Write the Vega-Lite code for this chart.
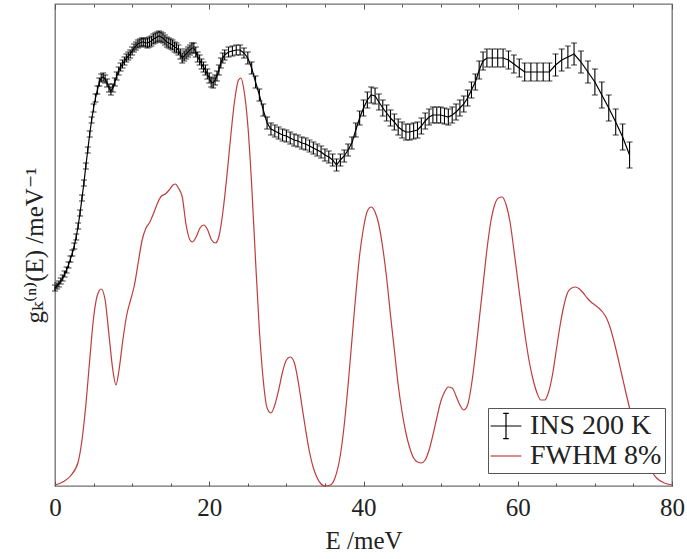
{
 "$schema": "https://vega.github.io/schema/vega-lite/v6.json",
 "width": 617, "height": 482,
 "autosize": "none",
 "padding": {"left": 55, "top": 4, "right": 15, "bottom": 73},
 "config": {
  "view": {"stroke": "#707070", "strokeWidth": 1.3},
  "axis": {"labelFont": "'Liberation Serif', 'DejaVu Serif', serif", "titleFont": "'Liberation Serif', 'DejaVu Serif', serif", "labelFontSize": 25, "titleFontSize": 25, "titleFontWeight": "normal", "labelColor": "#222", "titleColor": "#222", "domain": false, "grid": false, "tickColor": "#555", "tickWidth": 1, "labelFlush": false},
  "legend": {"labelFont": "'Liberation Serif', 'DejaVu Serif', serif", "labelFontSize": 28, "labelColor": "#222", "symbolSize": 784, "rowPadding": 0, "labelOffset": 9, "padding": 3, "symbolStrokeWidth": 1.2, "symbolFillColor": "transparent"}
 },
 "datasets": {
  "ins": [
   {"E":0,"g":198,"e":3},{"E":0.25,"g":200,"e":3},{"E":0.5,"g":202,"e":3},{"E":0.75,"g":205,"e":3},{"E":1,"g":208,"e":3},{"E":1.25,"g":212,"e":3},{"E":1.5,"g":216,"e":3},{"E":1.75,"g":221,"e":3},{"E":2,"g":227,"e":3},{"E":2.25,"g":233,"e":3},{"E":2.5,"g":240,"e":3},{"E":2.75,"g":249,"e":3},{"E":3,"g":260,"e":3},{"E":3.25,"g":273,"e":3},{"E":3.5,"g":288,"e":3},{"E":3.75,"g":303,"e":3},{"E":4,"g":320,"e":3},{"E":4.25,"g":336,"e":3},{"E":4.5,"g":352,"e":3},{"E":4.75,"g":366,"e":3},
   {"E":5,"g":378,"e":4},{"E":5.25,"g":388,"e":4},{"E":5.5,"g":396,"e":4},{"E":5.75,"g":404,"e":4},{"E":6,"g":408,"e":4},{"E":6.25,"g":409,"e":4},{"E":6.5,"g":407,"e":4},{"E":6.75,"g":403,"e":4},{"E":7,"g":398,"e":4},{"E":7.25,"g":395,"e":4},{"E":7.5,"g":398,"e":4},{"E":7.75,"g":404,"e":4},{"E":8,"g":410,"e":4},{"E":8.25,"g":415,"e":4},{"E":8.5,"g":419,"e":4},{"E":8.75,"g":422,"e":4},{"E":9,"g":425,"e":4},{"E":9.25,"g":428,"e":4},{"E":9.5,"g":430,"e":4},{"E":9.75,"g":432,"e":4},{"E":10,"g":435,"e":4},{"E":10.25,"g":438,"e":4},{"E":10.5,"g":440,"e":4},{"E":10.75,"g":442,"e":4},{"E":11,"g":443,"e":4},{"E":11.25,"g":444,"e":4},{"E":11.5,"g":444,"e":4},{"E":11.75,"g":443,"e":4},
   {"E":12,"g":443,"e":5},{"E":12.25,"g":444,"e":5},{"E":12.5,"g":445,"e":5},{"E":12.75,"g":447,"e":5},{"E":13,"g":448,"e":5},{"E":13.25,"g":449,"e":5},{"E":13.5,"g":450,"e":5},{"E":13.75,"g":449,"e":5},{"E":14,"g":448,"e":5},{"E":14.25,"g":446,"e":5},{"E":14.5,"g":444,"e":5},{"E":14.75,"g":443,"e":5},{"E":15,"g":442,"e":5},{"E":15.25,"g":441,"e":5},{"E":15.5,"g":439,"e":5},{"E":15.75,"g":438,"e":5},{"E":16,"g":436,"e":5},{"E":16.25,"g":432,"e":5},{"E":16.5,"g":428,"e":5},{"E":16.75,"g":430,"e":5},{"E":17,"g":432,"e":5},{"E":17.25,"g":434,"e":5},{"E":17.5,"g":436,"e":5},{"E":17.75,"g":438,"e":5},{"E":18,"g":438,"e":5},{"E":18.25,"g":434,"e":5},{"E":18.5,"g":429,"e":5},{"E":18.75,"g":426,"e":5},{"E":19,"g":422,"e":5},{"E":19.25,"g":419,"e":5},{"E":19.5,"g":416,"e":5},{"E":19.75,"g":412,"e":5},{"E":20,"g":408,"e":5},{"E":20.25,"g":404,"e":5},{"E":20.5,"g":403,"e":5},{"E":20.75,"g":406,"e":5},{"E":21,"g":410,"e":5},{"E":21.25,"g":416,"e":5},{"E":21.5,"g":423,"e":5},{"E":21.75,"g":428,"e":5},{"E":22,"g":431,"e":5},{"E":22.5,"g":434,"e":5},{"E":23,"g":435,"e":5},{"E":23.5,"g":436,"e":5},{"E":24,"g":436,"e":5},{"E":24.5,"g":433,"e":5},
   {"E":25,"g":428,"e":6},{"E":25.5,"g":418,"e":6},{"E":26,"g":404,"e":6},{"E":26.5,"g":391,"e":6},{"E":27,"g":376,"e":6},{"E":27.5,"g":363,"e":6},{"E":28,"g":357,"e":6},{"E":28.5,"g":355,"e":6},{"E":29,"g":353,"e":6},{"E":29.5,"g":351,"e":6},{"E":30,"g":350,"e":6},{"E":30.5,"g":348,"e":6},{"E":31,"g":346,"e":6},{"E":31.5,"g":345,"e":6},{"E":32,"g":343,"e":6},{"E":32.5,"g":342,"e":6},{"E":33,"g":340,"e":6},{"E":33.5,"g":338,"e":6},{"E":34,"g":336,"e":6},{"E":34.5,"g":334,"e":6},{"E":35,"g":331,"e":6},{"E":35.5,"g":329,"e":6},{"E":36,"g":326,"e":6},{"E":36.5,"g":321,"e":6},{"E":37,"g":326,"e":6},{"E":37.5,"g":330,"e":6},{"E":38,"g":336,"e":6},{"E":38.5,"g":343,"e":6},{"E":39,"g":356,"e":7},{"E":39.5,"g":368,"e":7},
   {"E":40,"g":378,"e":8},{"E":40.5,"g":386,"e":8},{"E":41,"g":391,"e":8},{"E":41.5,"g":390,"e":8},{"E":42,"g":384,"e":8},{"E":42.5,"g":378,"e":8},{"E":43,"g":373,"e":8},{"E":43.5,"g":368,"e":8},{"E":44,"g":364,"e":8},{"E":44.5,"g":359,"e":8},{"E":45,"g":356,"e":8},{"E":45.5,"g":354,"e":8},{"E":46,"g":354,"e":8},{"E":46.5,"g":355,"e":8},{"E":47,"g":356,"e":8},{"E":47.5,"g":360,"e":8},{"E":48,"g":365,"e":8},{"E":48.5,"g":369,"e":8},{"E":49,"g":371,"e":8},{"E":49.5,"g":371,"e":8},{"E":50,"g":371,"e":8},{"E":50.5,"g":370,"e":8},{"E":51,"g":369,"e":8},{"E":51.5,"g":371,"e":8},{"E":52,"g":374,"e":8},{"E":52.5,"g":378,"e":8},{"E":53,"g":382,"e":8},{"E":53.5,"g":388,"e":8},{"E":54,"g":396,"e":8},{"E":54.5,"g":404,"e":8},
   {"E":55,"g":416,"e":9},{"E":55.5,"g":425,"e":9},{"E":56,"g":428,"e":9},{"E":56.7,"g":428,"e":9},{"E":57.4,"g":428,"e":9},{"E":58.1,"g":428,"e":9},{"E":58.8,"g":426,"e":9},{"E":59.5,"g":422,"e":9},{"E":60.2,"g":418,"e":9},{"E":60.9,"g":414,"e":9},{"E":61.7,"g":414,"e":9},{"E":62.5,"g":414,"e":9},{"E":63.3,"g":414,"e":9},{"E":64.1,"g":414,"e":9},
   {"E":64.9,"g":421,"e":11},{"E":65.7,"g":426,"e":11},{"E":66.5,"g":429,"e":11},{"E":67.3,"g":432,"e":11},{"E":68.2,"g":424,"e":11},{"E":69.1,"g":414,"e":11},
   {"E":70,"g":404,"e":13},{"E":70.9,"g":391,"e":13},{"E":71.8,"g":378,"e":13},{"E":72.7,"g":364,"e":13},{"E":73.6,"g":349,"e":13},{"E":74.5,"g":331,"e":13}
  ],
  "fwhm": [
   {"E":0,"g":1},{"E":1,"g":4},{"E":2,"g":10},{"E":3,"g":24},{"E":3.5,"g":46},{"E":4,"g":81},{"E":4.5,"g":126},{"E":5,"g":168},{"E":5.5,"g":191},{"E":6,"g":197},{"E":6.5,"g":186},{"E":7,"g":151},{"E":7.5,"g":116},{"E":7.9,"g":101},{"E":8.3,"g":116},{"E":8.8,"g":146},{"E":9.3,"g":171},{"E":9.8,"g":186},{"E":10.3,"g":201},{"E":10.8,"g":224},{"E":11.3,"g":246},{"E":11.8,"g":258},{"E":12.3,"g":264},{"E":12.8,"g":273},{"E":13.3,"g":283},{"E":13.8,"g":290},{"E":14.3,"g":292},{"E":14.8,"g":296},{"E":15.3,"g":301},{"E":15.6,"g":302},{"E":16,"g":298},{"E":16.5,"g":289},{"E":17,"g":261},{"E":17.5,"g":246},{"E":17.8,"g":244},{"E":18.3,"g":249},{"E":18.8,"g":258},{"E":19.3,"g":261},{"E":19.8,"g":256},{"E":20.3,"g":246},{"E":20.8,"g":243},{"E":21.3,"g":251},{"E":21.8,"g":276},{"E":22.3,"g":311},{"E":22.8,"g":351},{"E":23.3,"g":386},{"E":23.8,"g":406},{"E":24.1,"g":408},{"E":24.5,"g":396},{"E":25,"g":361},{"E":25.5,"g":301},{"E":26,"g":226},{"E":26.5,"g":156},{"E":27,"g":106},{"E":27.5,"g":78},{"E":28,"g":73},{"E":28.5,"g":81},{"E":29,"g":96},{"E":29.5,"g":114},{"E":30,"g":126},{"E":30.5,"g":129},{"E":31,"g":124},{"E":31.5,"g":106},{"E":32,"g":81},{"E":32.5,"g":56},{"E":33,"g":34},{"E":33.5,"g":18},{"E":34,"g":8},{"E":34.5,"g":2},{"E":35,"g":0},{"E":35.7,"g":1},{"E":36.3,"g":8},{"E":37,"g":31},{"E":37.5,"g":61},{"E":38,"g":101},{"E":38.5,"g":146},{"E":39,"g":191},{"E":39.5,"g":231},{"E":40,"g":258},{"E":40.5,"g":275},{"E":41,"g":279},{"E":41.5,"g":274},{"E":42,"g":261},{"E":42.5,"g":238},{"E":43,"g":208},{"E":43.5,"g":171},{"E":44,"g":136},{"E":44.5,"g":101},{"E":45,"g":74},{"E":45.5,"g":53},{"E":46,"g":38},{"E":46.5,"g":28},{"E":47,"g":24},{"E":47.5,"g":23},{"E":48,"g":26},{"E":48.5,"g":36},{"E":49,"g":51},{"E":49.5,"g":68},{"E":50,"g":84},{"E":50.5,"g":94},{"E":51,"g":99},{"E":51.5,"g":98},{"E":52,"g":90},{"E":52.5,"g":81},{"E":53,"g":76},{"E":53.5,"g":81},{"E":54,"g":101},{"E":54.5,"g":131},{"E":55,"g":166},{"E":55.5,"g":201},{"E":56,"g":236},{"E":56.5,"g":264},{"E":57,"g":281},{"E":57.5,"g":288},{"E":58,"g":289},{"E":58.5,"g":281},{"E":59,"g":264},{"E":59.5,"g":236},{"E":60,"g":206},{"E":60.5,"g":176},{"E":61,"g":148},{"E":61.5,"g":124},{"E":62,"g":106},{"E":62.5,"g":93},{"E":63,"g":86},{"E":63.5,"g":86},{"E":64,"g":94},{"E":64.5,"g":111},{"E":65,"g":136},{"E":65.5,"g":161},{"E":66,"g":181},{"E":66.5,"g":194},{"E":67,"g":198},{"E":67.5,"g":199},{"E":68,"g":197},{"E":68.5,"g":193},{"E":69,"g":188},{"E":69.5,"g":184},{"E":70,"g":181},{"E":70.5,"g":178},{"E":71,"g":174},{"E":71.5,"g":168},{"E":72,"g":158},{"E":72.5,"g":144},{"E":73,"g":128},{"E":73.5,"g":111},{"E":74,"g":94},{"E":74.5,"g":78},{"E":75,"g":64},{"E":75.5,"g":50},{"E":76,"g":38},{"E":76.5,"g":28},{"E":77,"g":20},{"E":77.5,"g":13},{"E":78,"g":8},{"E":79,"g":3},{"E":80,"g":1}
  ]
 },
 "layer": [
  {
   "data": {"name": "fwhm"},
   "mark": {"type": "line", "interpolate": "monotone", "strokeWidth": 1.2},
   "encoding": {
    "x": {"field": "E", "type": "quantitative", "scale": {"domain": [0, 80], "nice": false}, "axis": {"orient": "bottom", "values": [0, 20, 40, 60, 80], "tickSize": -5, "labelPadding": 14, "title": "E /meV", "titlePadding": 8}},
    "y": {"field": "g", "type": "quantitative", "scale": {"domain": [0, 482], "nice": false, "zero": false}, "axis": {"title": "gₖ⁽ⁿ⁾(E) /meV⁻¹", "labels": false, "ticks": false, "titlePadding": 8}},
    "color": {"datum": "FWHM 8%", "type": "nominal", "scale": {"domain": ["INS 200 K", "FWHM 8%"], "range": ["#000000", "#c03c3c"]},
     "legend": {"orient": "none", "legendX": 433, "legendY": 404, "title": null, "strokeColor": "#555", "fillColor": "white",
      "encode": {"symbols": {"update": {"shape": {"signal": "datum.value === 'INS 200 K' ? 'M-1.1,0H1.1M0,-0.9V0.9M-0.2,-0.9H0.2M-0.2,0.9H0.2' : 'M-1.1,0H1.1'"}}}}}}
   }
  },
  {
   "data": {"name": "fwhm"},
   "mark": {"type": "line", "opacity": 0, "color": "#c03c3c"},
   "encoding": {
    "x": {"field": "E", "type": "quantitative", "axis": {"orient": "bottom", "values": [5, 10, 15, 25, 30, 35, 45, 50, 55, 65, 70, 75], "tickSize": -3, "labels": false, "title": null}},
    "y": {"field": "g", "type": "quantitative", "axis": {"title": "gₖ⁽ⁿ⁾(E) /meV⁻¹", "labels": false, "ticks": false, "titlePadding": 8}}
   }
  },
  {
   "data": {"name": "ins"},
   "mark": {"type": "line", "strokeWidth": 1.2},
   "encoding": {
    "x": {"field": "E", "type": "quantitative", "axis": {"orient": "top", "values": [0, 20, 40, 60, 80], "tickSize": -5, "labels": false, "title": null}},
    "y": {"field": "g", "type": "quantitative", "axis": {"title": "gₖ⁽ⁿ⁾(E) /meV⁻¹", "labels": false, "ticks": false, "titlePadding": 8}},
    "color": {"datum": "INS 200 K", "type": "nominal",
     "legend": {"orient": "none", "legendX": 433, "legendY": 404, "title": null, "strokeColor": "#555", "fillColor": "white",
      "encode": {"symbols": {"update": {"shape": {"signal": "datum.value === 'INS 200 K' ? 'M-1.1,0H1.1M0,-0.9V0.9M-0.2,-0.9H0.2M-0.2,0.9H0.2' : 'M-1.1,0H1.1'"}}}}}}
   }
  },
  {
   "data": {"name": "ins"},
   "mark": {"type": "line", "opacity": 0, "color": "black"},
   "encoding": {
    "x": {"field": "E", "type": "quantitative", "axis": {"orient": "top", "values": [5, 10, 15, 25, 30, 35, 45, 50, 55, 65, 70, 75], "tickSize": -3, "labels": false, "title": null}},
    "y": {"field": "g", "type": "quantitative", "axis": {"title": "gₖ⁽ⁿ⁾(E) /meV⁻¹", "labels": false, "ticks": false, "titlePadding": 8}}
   }
  },
  {
   "data": {"name": "ins"},
   "mark": {"type": "errorbar", "color": "black", "ticks": {"size": 6, "thickness": 1.1}, "rule": {"strokeWidth": 1.1}},
   "encoding": {
    "x": {"field": "E", "type": "quantitative", "axis": null},
    "y": {"field": "g", "type": "quantitative", "axis": {"title": "gₖ⁽ⁿ⁾(E) /meV⁻¹", "labels": false, "ticks": false, "titlePadding": 8}},
    "yError": {"field": "e"}
   }
  }
 ],
 "resolve": {"axis": {"x": "independent"}}
}
